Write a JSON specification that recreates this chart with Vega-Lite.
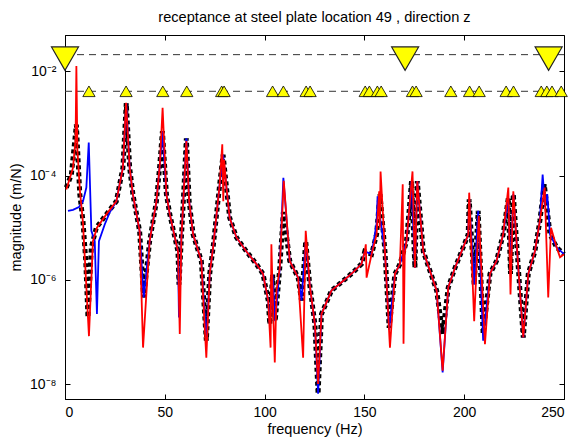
{
  "$schema": "https://vega.github.io/schema/vega-lite/v6.json",
  "autosize": "none",
  "width": 499,
  "height": 364,
  "padding": {"left": 65, "top": 35, "right": 10, "bottom": 42},
  "background": "white",
  "config": {
    "view": {"stroke": "#000", "strokeWidth": 1},
    "font": "Liberation Sans",
    "axis": {"grid": false, "domainColor": "#000", "tickColor": "#000", "labelColor": "#000", "titleColor": "#000", "labelFontSize": 14, "titleFontSize": 14.5, "titleFontWeight": "normal", "labelFont": "Liberation Sans", "titleFont": "Liberation Sans"}
  },
  "title": {"text": "receptance at steel plate location 49 , direction z", "fontSize": 14.6, "fontWeight": "normal", "font": "Liberation Sans", "anchor": "middle", "baseline": "alphabetic", "offset": -2, "color": "#000"},
  "datasets": {
    "curves": [
      {"series": "black", "f": 0.67, "mag": 5.9e-5},
      {"series": "black", "f": 3.2, "mag": 1.05e-4},
      {"series": "black", "f": 5.7, "mag": 9.5e-4},
      {"series": "black", "f": 7.4, "mag": 4.4e-5},
      {"series": "black", "f": 9, "mag": 1.35e-5},
      {"series": "black", "f": 10.4, "mag": 2.3e-6},
      {"series": "black", "f": 11.5, "mag": 1.9e-7},
      {"series": "black", "f": 13.2, "mag": 4.2e-6},
      {"series": "black", "f": 15.7, "mag": 1.0e-5},
      {"series": "black", "f": 20.7, "mag": 1.8e-5},
      {"series": "black", "f": 25.7, "mag": 3.2e-5},
      {"series": "black", "f": 29, "mag": 1.4e-4},
      {"series": "black", "f": 30.7, "mag": 2.45e-3},
      {"series": "black", "f": 32.4, "mag": 1.4e-4},
      {"series": "black", "f": 34, "mag": 4.4e-5},
      {"series": "black", "f": 37.4, "mag": 8.5e-6},
      {"series": "black", "f": 39.4, "mag": 4.6e-7},
      {"series": "black", "f": 42.4, "mag": 5.5e-6},
      {"series": "black", "f": 45.8, "mag": 3.2e-5},
      {"series": "black", "f": 47.5, "mag": 1.6e-4},
      {"series": "black", "f": 48.8, "mag": 7.1e-4},
      {"series": "black", "f": 50.8, "mag": 4.4e-5},
      {"series": "black", "f": 52.5, "mag": 1.8e-5},
      {"series": "black", "f": 56.6, "mag": 3.5e-6},
      {"series": "black", "f": 57.1, "mag": 8.1e-7},
      {"series": "black", "f": 58.3, "mag": 6.3e-6},
      {"series": "black", "f": 59.1, "mag": 2.4e-5},
      {"series": "black", "f": 60.8, "mag": 5.2e-4},
      {"series": "black", "f": 62.2, "mag": 3.2e-5},
      {"series": "black", "f": 64.2, "mag": 7.4e-6},
      {"series": "black", "f": 68.3, "mag": 2.3e-6},
      {"series": "black", "f": 70.8, "mag": 6.8e-8},
      {"series": "black", "f": 72.5, "mag": 1.3e-6},
      {"series": "black", "f": 74.2, "mag": 4.2e-6},
      {"series": "black", "f": 77.5, "mag": 6.8e-5},
      {"series": "black", "f": 79.2, "mag": 2.5e-4},
      {"series": "black", "f": 80.9, "mag": 5.9e-5},
      {"series": "black", "f": 82.5, "mag": 1.55e-5},
      {"series": "black", "f": 85.9, "mag": 6.5e-6},
      {"series": "black", "f": 90.9, "mag": 3.5e-6},
      {"series": "black", "f": 95.9, "mag": 2.0e-6},
      {"series": "black", "f": 99.2, "mag": 1.3e-6},
      {"series": "black", "f": 101.8, "mag": 4.0e-7},
      {"series": "black", "f": 102.6, "mag": 1.4e-7},
      {"series": "black", "f": 104, "mag": 1.26e-6},
      {"series": "black", "f": 105.3, "mag": 1.6e-7},
      {"series": "black", "f": 107.6, "mag": 1.7e-6},
      {"series": "black", "f": 109.4, "mag": 2.0e-5},
      {"series": "black", "f": 112.6, "mag": 2.3e-6},
      {"series": "black", "f": 116.8, "mag": 1.1e-6},
      {"series": "black", "f": 118.5, "mag": 4.0e-7},
      {"series": "black", "f": 120.6, "mag": 5.5e-6},
      {"series": "black", "f": 122.6, "mag": 8.1e-7},
      {"series": "black", "f": 125.2, "mag": 1.4e-7},
      {"series": "black", "f": 126.8, "mag": 6.5e-9},
      {"series": "black", "f": 128.5, "mag": 2.2e-7},
      {"series": "black", "f": 133.5, "mag": 6.2e-7},
      {"series": "black", "f": 139.3, "mag": 9.5e-7},
      {"series": "black", "f": 144.4, "mag": 1.4e-6},
      {"series": "black", "f": 148.5, "mag": 2.0e-6},
      {"series": "black", "f": 150.2, "mag": 3.5e-6},
      {"series": "black", "f": 153.6, "mag": 3.1e-6},
      {"series": "black", "f": 156.1, "mag": 7.4e-6},
      {"series": "black", "f": 157.8, "mag": 4.4e-5},
      {"series": "black", "f": 160.3, "mag": 3.5e-6},
      {"series": "black", "f": 162.4, "mag": 1.2e-7},
      {"series": "black", "f": 165.3, "mag": 1.3e-6},
      {"series": "black", "f": 167.8, "mag": 2.0e-6},
      {"series": "black", "f": 171.1, "mag": 5.5e-6},
      {"series": "black", "f": 172.8, "mag": 3.2e-5},
      {"series": "black", "f": 173.6, "mag": 7.8e-5},
      {"series": "black", "f": 175.3, "mag": 1.7e-6},
      {"series": "black", "f": 176.5, "mag": 7.8e-5},
      {"series": "black", "f": 179.5, "mag": 3.5e-6},
      {"series": "black", "f": 182.8, "mag": 1.5e-6},
      {"series": "black", "f": 186.2, "mag": 6.2e-7},
      {"series": "black", "f": 189.2, "mag": 9.1e-8},
      {"series": "black", "f": 192, "mag": 7.1e-7},
      {"series": "black", "f": 195.4, "mag": 1.7e-6},
      {"series": "black", "f": 199.5, "mag": 4.2e-6},
      {"series": "black", "f": 202, "mag": 7.4e-6},
      {"series": "black", "f": 202.5, "mag": 3.5e-5},
      {"series": "black", "f": 205, "mag": 8.1e-7},
      {"series": "black", "f": 207, "mag": 2.1e-5},
      {"series": "black", "f": 209.5, "mag": 9.1e-8},
      {"series": "black", "f": 212.9, "mag": 1.3e-6},
      {"series": "black", "f": 216.2, "mag": 2.3e-6},
      {"series": "black", "f": 219.5, "mag": 7.4e-6},
      {"series": "black", "f": 222.1, "mag": 3.7e-5},
      {"series": "black", "f": 223.2, "mag": 1.3e-6},
      {"series": "black", "f": 224.6, "mag": 4.4e-5},
      {"series": "black", "f": 227.1, "mag": 1.7e-6},
      {"series": "black", "f": 229.6, "mag": 7.8e-8},
      {"series": "black", "f": 232.1, "mag": 1.3e-6},
      {"series": "black", "f": 235.4, "mag": 3.5e-6},
      {"series": "black", "f": 237.9, "mag": 1.35e-5},
      {"series": "black", "f": 240.1, "mag": 6.8e-5},
      {"series": "black", "f": 243, "mag": 7.4e-6},
      {"series": "black", "f": 246.3, "mag": 4.2e-6},
      {"series": "black", "f": 250, "mag": 3.1e-6},

      {"series": "blue", "f": 1.5, "mag": 2.1e-5},
      {"series": "blue", "f": 4, "mag": 2.2e-5},
      {"series": "blue", "f": 7, "mag": 2.5e-5},
      {"series": "blue", "f": 9, "mag": 3.2e-5},
      {"series": "blue", "f": 10.7, "mag": 5.9e-5},
      {"series": "blue", "f": 11.9, "mag": 4.3e-4},
      {"series": "blue", "f": 13.2, "mag": 8.7e-6},
      {"series": "blue", "f": 14.9, "mag": 5.5e-6},
      {"series": "blue", "f": 16, "mag": 2.2e-7},
      {"series": "blue", "f": 17, "mag": 5.5e-6},
      {"series": "blue", "f": 19.9, "mag": 1.15e-5},
      {"series": "blue", "f": 22.5, "mag": 2.0e-5},
      {"series": "blue", "f": 25.7, "mag": 3.2e-5},
      {"series": "blue", "f": 29, "mag": 1.4e-4},
      {"series": "blue", "f": 30.7, "mag": 2.45e-3},
      {"series": "blue", "f": 32.4, "mag": 1.4e-4},
      {"series": "blue", "f": 34, "mag": 4.4e-5},
      {"series": "blue", "f": 37.4, "mag": 8.5e-6},
      {"series": "blue", "f": 39.4, "mag": 4.6e-7},
      {"series": "blue", "f": 42.4, "mag": 5.5e-6},
      {"series": "blue", "f": 45.8, "mag": 3.2e-5},
      {"series": "blue", "f": 47.5, "mag": 1.6e-4},
      {"series": "blue", "f": 48.8, "mag": 7.1e-4},
      {"series": "blue", "f": 50.8, "mag": 4.4e-5},
      {"series": "blue", "f": 52.5, "mag": 1.8e-5},
      {"series": "blue", "f": 56.6, "mag": 3.5e-6},
      {"series": "blue", "f": 57.1, "mag": 1.9e-7},
      {"series": "blue", "f": 58.3, "mag": 6.3e-6},
      {"series": "blue", "f": 59.1, "mag": 2.4e-5},
      {"series": "blue", "f": 60.8, "mag": 5.2e-4},
      {"series": "blue", "f": 62.2, "mag": 3.2e-5},
      {"series": "blue", "f": 64.2, "mag": 7.4e-6},
      {"series": "blue", "f": 68.3, "mag": 2.3e-6},
      {"series": "blue", "f": 70.8, "mag": 6.8e-8},
      {"series": "blue", "f": 72.5, "mag": 1.3e-6},
      {"series": "blue", "f": 74.2, "mag": 4.2e-6},
      {"series": "blue", "f": 77.5, "mag": 6.8e-5},
      {"series": "blue", "f": 79.2, "mag": 2.5e-4},
      {"series": "blue", "f": 80.9, "mag": 5.9e-5},
      {"series": "blue", "f": 82.5, "mag": 1.55e-5},
      {"series": "blue", "f": 85.9, "mag": 6.5e-6},
      {"series": "blue", "f": 90.9, "mag": 3.5e-6},
      {"series": "blue", "f": 95.9, "mag": 2.0e-6},
      {"series": "blue", "f": 99.2, "mag": 1.3e-6},
      {"series": "blue", "f": 101.8, "mag": 4.0e-7},
      {"series": "blue", "f": 102.6, "mag": 1.4e-7},
      {"series": "blue", "f": 104, "mag": 1.26e-6},
      {"series": "blue", "f": 105.3, "mag": 1.6e-7},
      {"series": "blue", "f": 107.6, "mag": 1.7e-6},
      {"series": "blue", "f": 109.4, "mag": 9.1e-5},
      {"series": "blue", "f": 112.6, "mag": 2.3e-6},
      {"series": "blue", "f": 116.8, "mag": 1.1e-6},
      {"series": "blue", "f": 118.5, "mag": 4.0e-7},
      {"series": "blue", "f": 120.6, "mag": 5.5e-6},
      {"series": "blue", "f": 122.6, "mag": 8.1e-7},
      {"series": "blue", "f": 125.2, "mag": 1.4e-7},
      {"series": "blue", "f": 126.8, "mag": 6.5e-9},
      {"series": "blue", "f": 128.5, "mag": 2.2e-7},
      {"series": "blue", "f": 133.5, "mag": 6.2e-7},
      {"series": "blue", "f": 139.3, "mag": 9.5e-7},
      {"series": "blue", "f": 144.4, "mag": 1.4e-6},
      {"series": "blue", "f": 148.5, "mag": 2.0e-6},
      {"series": "blue", "f": 150.2, "mag": 3.5e-6},
      {"series": "blue", "f": 153.6, "mag": 3.1e-6},
      {"series": "blue", "f": 156.1, "mag": 1.2e-5},
      {"series": "blue", "f": 156.6, "mag": 4.0e-5},
      {"series": "blue", "f": 157.8, "mag": 1.6e-5},
      {"series": "blue", "f": 160.3, "mag": 3.5e-6},
      {"series": "blue", "f": 162.4, "mag": 1.1e-7},
      {"series": "blue", "f": 165.3, "mag": 1.3e-6},
      {"series": "blue", "f": 167.8, "mag": 2.0e-6},
      {"series": "blue", "f": 171.1, "mag": 5.5e-6},
      {"series": "blue", "f": 172.8, "mag": 3.2e-5},
      {"series": "blue", "f": 173.6, "mag": 7.8e-5},
      {"series": "blue", "f": 175.3, "mag": 1.7e-6},
      {"series": "blue", "f": 176.5, "mag": 7.8e-5},
      {"series": "blue", "f": 179.5, "mag": 3.5e-6},
      {"series": "blue", "f": 182.8, "mag": 1.5e-6},
      {"series": "blue", "f": 186.2, "mag": 6.2e-7},
      {"series": "blue", "f": 189.2, "mag": 1.66e-8},
      {"series": "blue", "f": 192, "mag": 7.1e-7},
      {"series": "blue", "f": 195.4, "mag": 1.7e-6},
      {"series": "blue", "f": 199.5, "mag": 4.2e-6},
      {"series": "blue", "f": 202, "mag": 7.4e-6},
      {"series": "blue", "f": 202.5, "mag": 3.5e-5},
      {"series": "blue", "f": 205, "mag": 8.1e-7},
      {"series": "blue", "f": 207, "mag": 2.1e-5},
      {"series": "blue", "f": 209.5, "mag": 6.8e-8},
      {"series": "blue", "f": 212.9, "mag": 1.3e-6},
      {"series": "blue", "f": 216.2, "mag": 2.3e-6},
      {"series": "blue", "f": 219.5, "mag": 7.4e-6},
      {"series": "blue", "f": 222.1, "mag": 3.7e-5},
      {"series": "blue", "f": 223.2, "mag": 1.3e-6},
      {"series": "blue", "f": 224.6, "mag": 4.4e-5},
      {"series": "blue", "f": 227.1, "mag": 1.7e-6},
      {"series": "blue", "f": 229.6, "mag": 7.8e-8},
      {"series": "blue", "f": 232.1, "mag": 1.3e-6},
      {"series": "blue", "f": 235.4, "mag": 3.5e-6},
      {"series": "blue", "f": 237.9, "mag": 1.35e-5},
      {"series": "blue", "f": 239.3, "mag": 1.05e-4},
      {"series": "blue", "f": 240.5, "mag": 2.5e-5},
      {"series": "blue", "f": 241.6, "mag": 4.4e-5},
      {"series": "blue", "f": 243, "mag": 7.4e-6},
      {"series": "blue", "f": 246.3, "mag": 4.2e-6},
      {"series": "blue", "f": 250, "mag": 3.1e-6},

      {"series": "red", "f": 0.67, "mag": 5.4e-5},
      {"series": "red", "f": 4, "mag": 1.4e-4},
      {"series": "red", "f": 5.3, "mag": 5.0e-4},
      {"series": "red", "f": 5.7, "mag": 1.26e-2},
      {"series": "red", "f": 6.2, "mag": 3.2e-4},
      {"series": "red", "f": 7.5, "mag": 5.0e-5},
      {"series": "red", "f": 9, "mag": 1.26e-5},
      {"series": "red", "f": 12, "mag": 8.3e-8},
      {"series": "red", "f": 14, "mag": 5.5e-6},
      {"series": "red", "f": 16, "mag": 1.0e-5},
      {"series": "red", "f": 20.7, "mag": 1.8e-5},
      {"series": "red", "f": 25.7, "mag": 3.2e-5},
      {"series": "red", "f": 29, "mag": 1.4e-4},
      {"series": "red", "f": 30.6, "mag": 2.5e-3},
      {"series": "red", "f": 32.4, "mag": 1.4e-4},
      {"series": "red", "f": 34, "mag": 4.4e-5},
      {"series": "red", "f": 37.4, "mag": 8.5e-6},
      {"series": "red", "f": 39.1, "mag": 5.0e-8},
      {"series": "red", "f": 42.4, "mag": 5.5e-6},
      {"series": "red", "f": 45.8, "mag": 3.2e-5},
      {"series": "red", "f": 47.5, "mag": 1.6e-4},
      {"series": "red", "f": 48.9, "mag": 2.0e-3},
      {"series": "red", "f": 50.8, "mag": 4.4e-5},
      {"series": "red", "f": 52.5, "mag": 1.8e-5},
      {"series": "red", "f": 56.6, "mag": 3.5e-6},
      {"series": "red", "f": 57.5, "mag": 9.1e-8},
      {"series": "red", "f": 58.3, "mag": 6.3e-6},
      {"series": "red", "f": 59.1, "mag": 2.4e-5},
      {"series": "red", "f": 60.8, "mag": 4.6e-4},
      {"series": "red", "f": 62.2, "mag": 3.2e-5},
      {"series": "red", "f": 64.2, "mag": 7.4e-6},
      {"series": "red", "f": 68.3, "mag": 2.3e-6},
      {"series": "red", "f": 70.8, "mag": 3.2e-8},
      {"series": "red", "f": 72.5, "mag": 1.3e-6},
      {"series": "red", "f": 74.2, "mag": 4.2e-6},
      {"series": "red", "f": 77.5, "mag": 6.8e-5},
      {"series": "red", "f": 78.8, "mag": 4.0e-4},
      {"series": "red", "f": 79.3, "mag": 3.2e-5},
      {"series": "red", "f": 79.7, "mag": 2.0e-4},
      {"series": "red", "f": 80.9, "mag": 5.9e-5},
      {"series": "red", "f": 82.5, "mag": 1.55e-5},
      {"series": "red", "f": 85.9, "mag": 6.5e-6},
      {"series": "red", "f": 90.9, "mag": 3.5e-6},
      {"series": "red", "f": 95.9, "mag": 2.0e-6},
      {"series": "red", "f": 99.2, "mag": 1.3e-6},
      {"series": "red", "f": 101.8, "mag": 4.0e-7},
      {"series": "red", "f": 103, "mag": 5.0e-8},
      {"series": "red", "f": 103.4, "mag": 4.8e-6},
      {"series": "red", "f": 104.2, "mag": 3.2e-7},
      {"series": "red", "f": 105.1, "mag": 2.6e-8},
      {"series": "red", "f": 106, "mag": 6.3e-7},
      {"series": "red", "f": 107.6, "mag": 1.7e-6},
      {"series": "red", "f": 109.6, "mag": 7.9e-5},
      {"series": "red", "f": 112.6, "mag": 2.3e-6},
      {"series": "red", "f": 116.8, "mag": 1.1e-6},
      {"series": "red", "f": 119.3, "mag": 3.2e-8},
      {"series": "red", "f": 120.6, "mag": 8.7e-6},
      {"series": "red", "f": 122.6, "mag": 8.1e-7},
      {"series": "red", "f": 125.2, "mag": 1.4e-7},
      {"series": "red", "f": 126.8, "mag": 1.0e-8},
      {"series": "red", "f": 128.5, "mag": 2.2e-7},
      {"series": "red", "f": 133.5, "mag": 6.2e-7},
      {"series": "red", "f": 139.3, "mag": 9.5e-7},
      {"series": "red", "f": 144.4, "mag": 1.4e-6},
      {"series": "red", "f": 148.5, "mag": 2.0e-6},
      {"series": "red", "f": 150.2, "mag": 3.5e-6},
      {"series": "red", "f": 150.7, "mag": 4.8e-6},
      {"series": "red", "f": 151.1, "mag": 1.1e-6},
      {"series": "red", "f": 153.6, "mag": 3.1e-6},
      {"series": "red", "f": 156.1, "mag": 7.4e-6},
      {"series": "red", "f": 157.4, "mag": 5.0e-5},
      {"series": "red", "f": 157.7, "mag": 1.0e-5},
      {"series": "red", "f": 158.1, "mag": 1.2e-4},
      {"series": "red", "f": 160.3, "mag": 3.5e-6},
      {"series": "red", "f": 162.8, "mag": 5.0e-8},
      {"series": "red", "f": 165.3, "mag": 1.3e-6},
      {"series": "red", "f": 167.8, "mag": 2.0e-6},
      {"series": "red", "f": 169.2, "mag": 6.8e-5},
      {"series": "red", "f": 169.6, "mag": 5.9e-8},
      {"series": "red", "f": 170.2, "mag": 3.2e-6},
      {"series": "red", "f": 171.1, "mag": 5.5e-6},
      {"series": "red", "f": 172.8, "mag": 3.2e-5},
      {"series": "red", "f": 174.1, "mag": 1.2e-4},
      {"series": "red", "f": 175.3, "mag": 1.7e-6},
      {"series": "red", "f": 176.5, "mag": 7.8e-5},
      {"series": "red", "f": 179.5, "mag": 3.5e-6},
      {"series": "red", "f": 182.8, "mag": 1.5e-6},
      {"series": "red", "f": 186.2, "mag": 6.2e-7},
      {"series": "red", "f": 189.2, "mag": 1.8e-8},
      {"series": "red", "f": 192, "mag": 7.1e-7},
      {"series": "red", "f": 195.4, "mag": 1.7e-6},
      {"series": "red", "f": 199.5, "mag": 4.2e-6},
      {"series": "red", "f": 202, "mag": 7.4e-6},
      {"series": "red", "f": 202.5, "mag": 4.7e-5},
      {"series": "red", "f": 205, "mag": 1.6e-7},
      {"series": "red", "f": 207.3, "mag": 1.7e-5},
      {"series": "red", "f": 210.4, "mag": 5.8e-8},
      {"series": "red", "f": 212.9, "mag": 1.3e-6},
      {"series": "red", "f": 216.2, "mag": 2.3e-6},
      {"series": "red", "f": 219.5, "mag": 7.4e-6},
      {"series": "red", "f": 222.1, "mag": 5.9e-5},
      {"series": "red", "f": 223.2, "mag": 5.2e-7},
      {"series": "red", "f": 224.6, "mag": 5.0e-5},
      {"series": "red", "f": 227.1, "mag": 1.7e-6},
      {"series": "red", "f": 229.6, "mag": 7.8e-8},
      {"series": "red", "f": 232.1, "mag": 1.3e-6},
      {"series": "red", "f": 235.4, "mag": 3.5e-6},
      {"series": "red", "f": 237.9, "mag": 1.35e-5},
      {"series": "red", "f": 240.3, "mag": 5.9e-5},
      {"series": "red", "f": 242.1, "mag": 4.6e-7},
      {"series": "red", "f": 243.5, "mag": 1.0e-5},
      {"series": "red", "f": 246.3, "mag": 4.2e-6},
      {"series": "red", "f": 248, "mag": 2.7e-6},
      {"series": "red", "f": 250, "mag": 3.1e-6}
    ],
    "levels": [
      {"level": 0.0209},
      {"level": 0.00414}
    ],
    "markers": [
      {"kind": "big", "f": 0, "mag": 0.0209},
      {"kind": "big", "f": 170.4, "mag": 0.0209},
      {"kind": "big", "f": 242.3, "mag": 0.0209},
      {"kind": "small", "f": 12, "mag": 0.00414},
      {"kind": "small", "f": 30.6, "mag": 0.00414},
      {"kind": "small", "f": 49, "mag": 0.00414},
      {"kind": "small", "f": 61, "mag": 0.00414},
      {"kind": "small", "f": 78.5, "mag": 0.00414},
      {"kind": "small", "f": 79.7, "mag": 0.00414},
      {"kind": "small", "f": 104, "mag": 0.00414},
      {"kind": "small", "f": 109.4, "mag": 0.00414},
      {"kind": "small", "f": 120.8, "mag": 0.00414},
      {"kind": "small", "f": 122.8, "mag": 0.00414},
      {"kind": "small", "f": 150.4, "mag": 0.00414},
      {"kind": "small", "f": 152.5, "mag": 0.00414},
      {"kind": "small", "f": 156.5, "mag": 0.00414},
      {"kind": "small", "f": 158.4, "mag": 0.00414},
      {"kind": "small", "f": 174.1, "mag": 0.00414},
      {"kind": "small", "f": 175.9, "mag": 0.00414},
      {"kind": "small", "f": 193.3, "mag": 0.00414},
      {"kind": "small", "f": 202.7, "mag": 0.00414},
      {"kind": "small", "f": 207.5, "mag": 0.00414},
      {"kind": "small", "f": 221, "mag": 0.00414},
      {"kind": "small", "f": 224.7, "mag": 0.00414},
      {"kind": "small", "f": 238.6, "mag": 0.00414},
      {"kind": "small", "f": 241.4, "mag": 0.00414},
      {"kind": "small", "f": 244, "mag": 0.00414},
      {"kind": "small", "f": 248.6, "mag": 0.00414}
    ]
  },
  "layer": [
    {
      "data": {"name": "levels"},
      "mark": {"type": "rule", "color": "#333", "strokeWidth": 1, "strokeDash": [7, 5]},
      "encoding": {
        "y": {"field": "level", "type": "quantitative", "scale": {"type": "log", "domain": [5.16e-9, 0.0498], "nice": false},
              "axis": {"values": [1e-8, 1e-6, 1e-4, 1e-2], "tickSize": -5, "labelPadding": 14, "labelExpr": "datum.value < 5e-8 ? '10⁻⁸' : datum.value < 5e-6 ? '10⁻⁶' : datum.value < 5e-4 ? '10⁻⁴' : '10⁻²'", "title": "magnitude (m/N)", "titlePadding": 6}}
      }
    },
    {
      "data": {"name": "curves"},
      "transform": [{"filter": "datum.series == 'black'"}],
      "mark": {"type": "line", "color": "#000", "strokeWidth": 5, "strokeDash": [4, 3]},
      "encoding": {
        "x": {"field": "f", "type": "quantitative", "scale": {"domain": [0, 250], "nice": false},
              "axis": {"values": [0, 50, 100, 150, 200, 250], "tickSize": -5, "labelPadding": 11, "title": "frequency (Hz)", "titlePadding": 3}},
        "y": {"field": "mag", "type": "quantitative", "axis": null}
      }
    },
    {
      "data": {"name": "curves"},
      "transform": [{"filter": "datum.series == 'blue'"}],
      "mark": {"type": "line", "color": "#0000ff", "strokeWidth": 1.8},
      "encoding": {
        "x": {"field": "f", "type": "quantitative", "axis": null},
        "y": {"field": "mag", "type": "quantitative", "axis": null}
      }
    },
    {
      "data": {"name": "curves"},
      "transform": [{"filter": "datum.series == 'red'"}],
      "mark": {"type": "line", "color": "#ff0000", "strokeWidth": 1.8},
      "encoding": {
        "x": {"field": "f", "type": "quantitative", "axis": null},
        "y": {"field": "mag", "type": "quantitative", "axis": null}
      }
    },
    {
      "data": {"name": "markers"},
      "transform": [{"filter": "datum.kind == 'small'"}],
      "mark": {"type": "point", "shape": "triangle-up", "size": 150, "filled": true, "fill": "#ffff00", "stroke": "#000", "strokeWidth": 0.8, "opacity": 1},
      "encoding": {
        "x": {"field": "f", "type": "quantitative", "axis": null},
        "y": {"field": "mag", "type": "quantitative", "axis": null}
      }
    },
    {
      "data": {"name": "markers"},
      "transform": [{"filter": "datum.kind == 'big'"}],
      "mark": {"type": "point", "shape": "triangle-down", "size": 729, "filled": true, "fill": "#ffff00", "stroke": "#222", "strokeWidth": 1.2, "opacity": 1, "yOffset": 4},
      "encoding": {
        "x": {"field": "f", "type": "quantitative", "axis": {"orient": "top", "values": [0, 50, 100, 150, 200, 250], "labels": false, "tickSize": -5, "title": null, "domain": false}},
        "y": {"field": "mag", "type": "quantitative", "axis": {"orient": "right", "values": [1e-8, 1e-6, 1e-4, 1e-2], "labels": false, "tickSize": -5, "title": null, "domain": false}}
      }
    }
  ],
  "resolve": {"axis": {"x": "independent", "y": "independent"}}
}
